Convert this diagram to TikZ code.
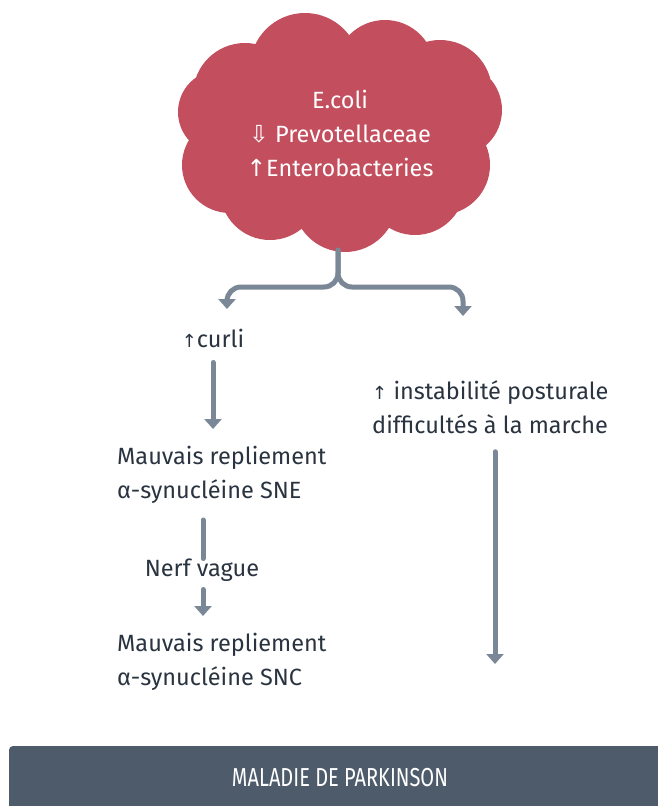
\documentclass[tikz,border=0pt]{standalone}
\usepackage{fontspec}
\setmainfont{Fira Sans}
\newfontfamily\symfont{DejaVu Sans}
\newfontfamily\narrowfont[FakeStretch=0.77]{Fira Sans}
\usepackage{tikz}
\usetikzlibrary{arrows.meta,positioning,calc}
\definecolor{cloudRed}{RGB}{194, 78, 94}
\definecolor{arrowGray}{RGB}{122, 135, 150}
\definecolor{inkDark}{RGB}{42, 52, 64}
\definecolor{bannerGray}{RGB}{78, 91, 107}
\tikzset{
  flow/.style={draw=arrowGray,line width=5pt,line cap=round,
    -{Triangle[width=17pt,length=10pt]}},
  flowplain/.style={draw=arrowGray,line width=5pt,line cap=round},
  txt/.style={text=inkDark,font=\fontsize{23.5}{34}\selectfont,inner sep=0pt,align=left},
}
\begin{document}
\begin{tikzpicture}[x=1pt,y=-1pt]
    % frame
    \useasboundingbox[fill=white] (0,0) rectangle (657,806);
    % cloud of bacteria
    \fill[cloudRed] (340,140) circle (85)
        (245,95) circle (52) (305,68) circle (55) (385,70) circle (50)
        (440,92) circle (52) (455,110) circle (47) (440,165) circle (50)
        (415,185) circle (50) (345,200) circle (52) (270,190) circle (50)
        (230,165) circle (48) (220,112) circle (42);
    \node[txt,text=white,align=center] (bact) at (340,133)
        {E.coli\\{\symfont ⇩} Prevotellaceae\\{\symfont ↑}Enterobacteries};
    \coordinate (cloudfoot) at (338,250);
    \coordinate (lefttip) at (227,309);
    \coordinate (righttip) at (463,316);
    % split towards both branches
    \draw[flow,rounded corners=14pt] (cloudfoot) -- (cloudfoot |- 0,287) -- (lefttip |- 0,287) -- (lefttip);
    \draw[flow,rounded corners=14pt] (cloudfoot) -- (cloudfoot |- 0,287) -- (righttip |- 0,287) -- (righttip);
    % left branch
    \node[txt] (curli) at (213,338) {{\symfont\fontsize{18}{20}\selectfont ↑}curli};
    \node[txt,anchor=west] (sne) at (117,475) {Mauvais repliement\\α-synucléine SNE};
    \node[txt] (nerf) at (202,570) {Nerf vague};
    \node[txt,anchor=west] (snc) at (117,662) {Mauvais repliement\\α-synucléine SNC};
    \draw[flow] (curli.south -| 213,0) ++(0,15) -- (213,429);
    \draw[flowplain] (203,520) -- (nerf.north -| 203,0) ++(0,-6);
    \draw[flow] (nerf.south -| 203,0) ++(0,8) -- (203,616);
    % right branch
    \node[txt,anchor=west] (posture) at (372,407)
        {{\symfont\fontsize{18}{20}\selectfont ↑} instabilité posturale\\difficultés à la marche};
    \draw[flow] (posture.south -| 495,0) ++(0,18) -- (495,664);
    % banner
    \fill[bannerGray,rounded corners=4pt] (9,746) rectangle (700,840);
    \node[text=white,font=\narrowfont\fontsize{26}{28}\selectfont] (park) at (340,778) {MALADIE DE PARKINSON};
\end{tikzpicture}
\end{document}
